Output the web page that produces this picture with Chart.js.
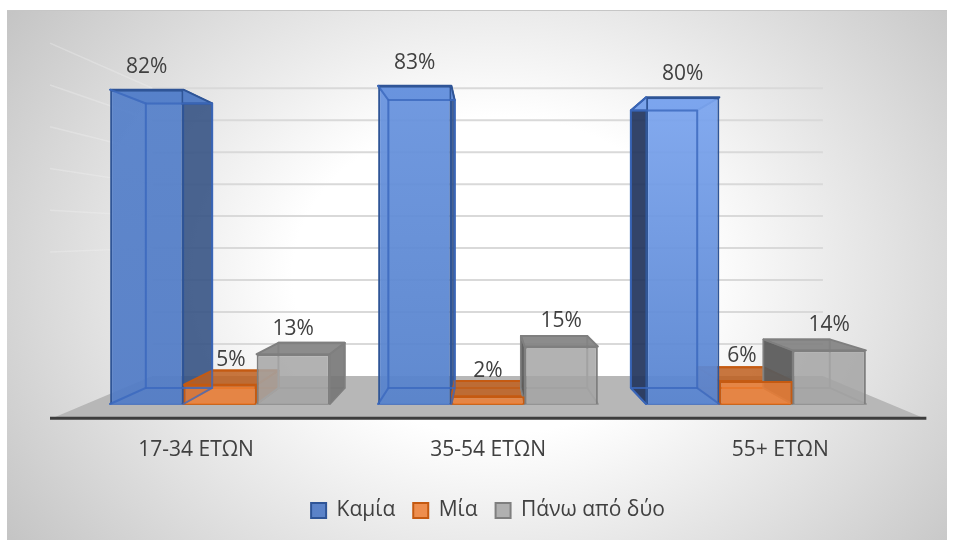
<!DOCTYPE html>
<html>
<head>
<meta charset="utf-8">
<style>
  html, body { margin: 0; padding: 0; background: #fff; width: 956px; height: 540px; overflow: hidden; }
  #panel {
    position: absolute; left: 7px; top: 10px; width: 940px; height: 530px;
    border-top: 1px solid #c6c6c6; box-sizing: border-box;
    background: radial-gradient(ellipse 72% 100% at 52% 50%, #fff 30%, #b8b8b8 100%);
  }
  canvas { position: absolute; left: 0; top: 0; }
</style>
</head>
<body>
<div id="panel"></div>
<canvas id="chart" width="956" height="540"></canvas>
<script src="https://cdn.jsdelivr.net/npm/chart.js@4"></script>
<script>
const categories = ['17-34 ΕΤΩΝ', '35-54 ΕΤΩΝ', '55+ ΕΤΩΝ'];
const seriesNames = ['Καμία', 'Μία', 'Πάνω από δύο'];
const kamia = [82, 83, 80];
const mia = [5, 2, 6];
const panw = [13, 15, 14];

const FONT = '"Open Sans", "Noto Sans", sans-serif';
const TEXT = '#404040';

// perspective: vanishing point and depth of each plane, front of the bars is 1
const VX = 486, VY = 235;
const BACK = 0.905, WALL = 0.834, FLOOR = 1.077, AXIS = 1.09;

const faces = [
  { edge: '#2f5597', inner: 'rgba(60,105,190,.8)', side: 'rgba(50,80,130,.88)', sideLeft: 'rgba(34,52,92,.92)', top: 'rgba(88,130,206,.9)' },
  { edge: '#c55a11', inner: '#c8661f', side: 'rgba(190,95,30,.85)', sideLeft: 'rgba(190,95,30,.85)', top: 'rgba(190,95,30,.85)' },
  { edge: '#7f7f7f', inner: '#949494', side: 'rgba(118,118,118,.9)', sideLeft: 'rgba(92,92,92,.95)', top: 'rgba(130,130,130,.92)' }
];
const blueTops = ['#5681caf0', '#6a95e0f0', '#80a9f2f0'];
const blueBottoms = ['#527cc6f0', '#5682ccf0', '#5884d0f0'];

function proj(x, y, s) {
  return [VX + s * (x - VX), VY + s * (y - VY)];
}

function poly(ctx, pts, fill, stroke, width) {
  ctx.beginPath();
  pts.forEach((p, i) => i ? ctx.lineTo(p[0], p[1]) : ctx.moveTo(p[0], p[1]));
  ctx.closePath();
  if (fill) { ctx.fillStyle = fill; ctx.fill(); }
  if (stroke) { ctx.strokeStyle = stroke; ctx.lineWidth = width || 2; ctx.stroke(); }
}

function blueFill(c) {
  const y = c.chart.scales.y;
  if (c.type !== 'data' || !y || !isFinite(y.top) || !isFinite(y.bottom)) return '#4f7ac8';
  const g = c.chart.ctx.createLinearGradient(0, y.top, 0, y.bottom);
  g.addColorStop(0, blueTops[c.dataIndex]);
  g.addColorStop(1, blueBottoms[c.dataIndex]);
  return g;
}

function barBox(bar) {
  const l = bar.x - bar.width / 2, r = bar.x + bar.width / 2;
  const t = bar.y, b = bar.base;
  return {
    l, r, t, b,
    tl: proj(l, t, BACK), tr: proj(r, t, BACK),
    bl: proj(l, b, BACK), br: proj(r, b, BACK)
  };
}

// floor, walls and the hidden faces of the bars
const box3d = {
  id: 'box3d',
  beforeDatasetsDraw(chart) {
    const ctx = chart.ctx;
    const { y: ys } = chart.scales;
    const left = chart.chartArea.left, right = chart.chartArea.right;
    const zero = ys.getPixelForValue(0);
    ctx.save();
    ctx.lineJoin = 'round';

    // side wall lines
    ys.ticks.forEach(t => {
      if (t.value < 40) return;
      const py = ys.getPixelForValue(t.value);
      const a = proj(left, py, AXIS), b = proj(left, py, WALL);
      ctx.beginPath();
      ctx.moveTo(a[0], a[1]);
      ctx.lineTo(b[0], b[1]);
      ctx.strokeStyle = 'rgba(240,240,240,.35)';
      ctx.lineWidth = 1.5;
      ctx.stroke();
    });

    // back wall grid
    ys.ticks.forEach(t => {
      if (t.value === 0) return;
      const py = ys.getPixelForValue(t.value);
      const a = proj(left, py, WALL), b = proj(right, py, WALL);
      ctx.beginPath();
      ctx.moveTo(a[0], a[1]);
      ctx.lineTo(b[0], b[1]);
      ctx.strokeStyle = '#d9d9d9';
      ctx.lineWidth = 2;
      ctx.stroke();
    });

    // floor
    poly(ctx, [proj(left, zero, WALL), proj(right, zero, WALL), proj(right, zero, FLOOR), proj(left, zero, FLOOR)], '#b7b7b7');

    // axis line at the front of the floor
    const a0 = proj(left, zero, AXIS), a1 = proj(right, zero, AXIS);
    ctx.beginPath();
    ctx.moveTo(a0[0], a0[1] - 1);
    ctx.lineTo(a1[0], a1[1] - 1);
    ctx.strokeStyle = '#3d3d3d';
    ctx.lineWidth = 3;
    ctx.stroke();

    // bars, back to front
    chart.data.datasets.forEach((ds, d) => {
      const f = faces[d];
      chart.getDatasetMeta(d).data.forEach((bar, i) => {
        const q = barBox(bar);
        poly(ctx, [q.bl, q.br, [q.r, q.b], [q.l, q.b]], null, f.inner, 2);
        poly(ctx, [q.tl, q.tr, q.br, q.bl], null, f.inner, 2);
        if (bar.x < VX) {
          poly(ctx, [[q.r, q.t], q.tr, q.br, [q.r, q.b]], f.side, f.edge, 1.5);
        } else {
          poly(ctx, [[q.l, q.t], q.tl, q.bl, [q.l, q.b]], f.sideLeft, f.edge, 1.5);
        }
        const top = d === 0 ? blueTops[i] : f.top;
        poly(ctx, [[q.l, q.t], [q.r, q.t], q.tr, q.tl], top, f.edge, 2);
      });
    });
    ctx.restore();
  },
  afterDatasetsDraw(chart) {
    const ctx = chart.ctx;
    const { x: xs, y: ys } = chart.scales;
    const zero = ys.getPixelForValue(0);
    ctx.save();
    ctx.lineJoin = 'round';

    // back edges of the blue bars show through the front
    chart.getDatasetMeta(0).data.forEach(bar => {
      const q = barBox(bar);
      poly(ctx, [q.tl, q.tr, q.br, q.bl], null, faces[0].inner, 2);
      poly(ctx, [q.bl, [q.l, q.b]], null, faces[0].inner, 2);
      poly(ctx, [q.br, [q.r, q.b]], null, faces[0].inner, 2);
      poly(ctx, [q.tl, [q.l, q.t]], null, faces[0].inner, 2);
    });

    ctx.fillStyle = TEXT;
    ctx.textAlign = 'center';
    ctx.textBaseline = 'middle';
    ctx.font = '21px ' + FONT;

    // value labels, the two short bars next to a tall one are moved aside
    const shift = { '1-0': 11, '1-2': -14 };
    chart.data.datasets.forEach((ds, d) => {
      chart.getDatasetMeta(d).data.forEach((bar, i) => {
        const up = bar.y > 200 ? 25 : 23;
        ctx.fillText(ds.data[i] + '%', bar.x + (shift[d + '-' + i] || 0), bar.y - up);
      });
    });

    // category labels sit on the front edge of the floor
    categories.forEach((c, i) => {
      const p = proj(xs.getPixelForValue(i), zero, AXIS);
      ctx.fillText(c, p[0], 450);
    });
    ctx.restore();
  }
};

new Chart(document.getElementById('chart'), {
  type: 'bar',
  data: {
    labels: categories,
    datasets: [
      { label: seriesNames[0], data: kamia, backgroundColor: blueFill, borderColor: faces[0].edge, borderWidth: 2 },
      { label: seriesNames[1], data: mia, backgroundColor: 'rgba(237,125,49,.85)', borderColor: faces[1].edge, borderWidth: 2 },
      { label: seriesNames[2], data: panw, backgroundColor: 'rgba(165,165,165,.85)', borderColor: faces[2].edge, borderWidth: 2 }
    ]
  },
  plugins: [box3d],
  options: {
    responsive: false,
    animation: false,
    layout: { padding: { left: 86, right: 66, top: 59, bottom: 9 } },
    datasets: { bar: { categoryPercentage: 0.82, barPercentage: 1 } },
    scales: {
      x: {
        grid: { display: false },
        border: { display: false },
        ticks: { display: false },
        afterFit: s => { s.height = 78; }
      },
      y: {
        display: false,
        min: 0,
        max: 90,
        ticks: { stepSize: 10 }
      }
    },
    plugins: {
      tooltip: { enabled: false },
      legend: {
        position: 'bottom',
        labels: {
          boxWidth: 15,
          boxHeight: 15,
          padding: 18,
          color: TEXT,
          font: { family: FONT, size: 21 }
        }
      }
    }
  }
});
</script>
</body>
</html>
